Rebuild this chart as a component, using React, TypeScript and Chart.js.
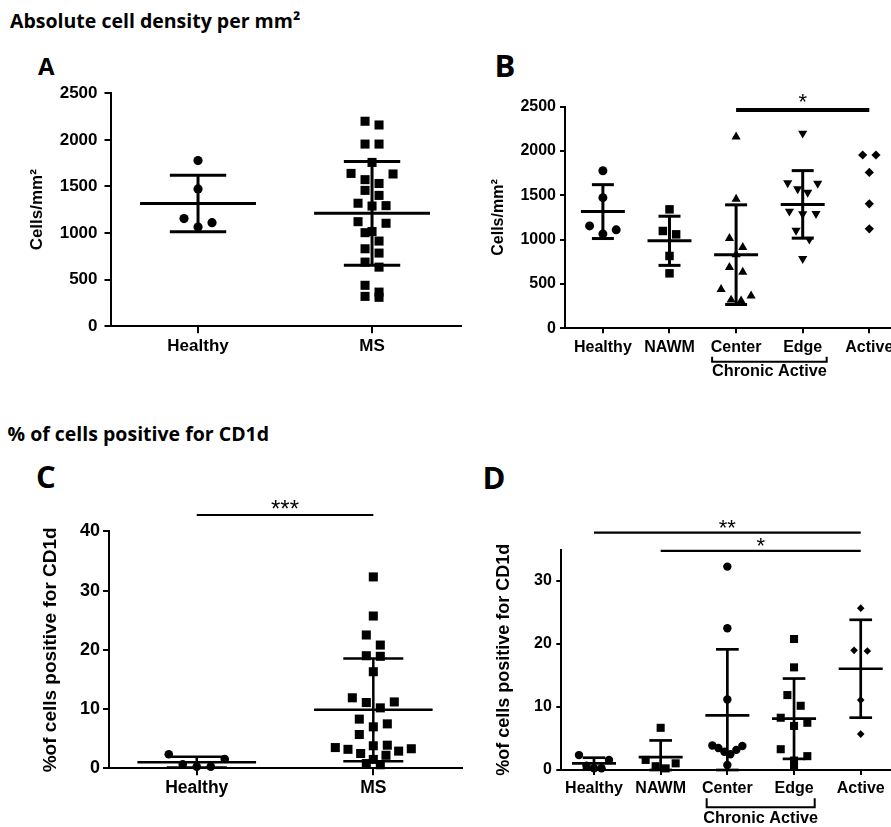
import React, { useEffect, useRef } from 'react';
import { Chart, registerables } from 'chart.js';

Chart.register(...registerables);

const AXIS_FONT = "'Liberation Sans', Arial, Helvetica, sans-serif";
const HEAD_FONT = "'Open Sans', 'Noto Sans', sans-serif";

// ---------- categories & tick labels ----------
const categoriesAC = ['Healthy', 'MS'];
const categoriesBD = ['Healthy', 'NAWM', 'Center', 'Edge', 'Active'];
const chronicActiveGroups = ['Center', 'Edge'];
const densityTicks = [0, 500, 1000, 1500, 2000, 2500];
const cd1dTicksC = [0, 10, 20, 30, 40];
const cd1dTicksD = [0, 10, 20, 30];

// ---------- absolute cell density per mm² ----------
const healthyDensity = [1778, 1474, 1155, 1111, 1065];
const nawmDensity = [1342, 1060, 1098, 816, 620];
const centerDensity = [2160, 1458, 1016, 914, 831, 688, 634, 439, 366, 320, 310];
const edgeDensity = [2200, 1640, 1634, 1573, 1532, 1320, 1290, 1294, 1105, 1004, 785];
const activeDensity = [1955, 1955, 1758, 1404, 1122];
const msDensity = [...centerDensity, ...edgeDensity, ...activeDensity];

// ---------- % of cells positive for CD1d ----------
const healthyCD1d = [2.37, 1.58, 0.68, 0.28, 0.28];
const nawmCD1d = [6.7, 1.06, 1.6, 0.26, 0.6];
const centerCD1d = [32.3, 22.5, 11.2, 3.9, 3.8, 3.5, 3.2, 2.9, 2.5, 0.8];
const edgeCD1d = [20.8, 16.3, 11.9, 10.2, 8.3, 7.5, 7.0, 3.3, 2.2, 1.5, 0.6];
const activeCD1d = [25.7, 19.0, 18.9, 11.1, 5.7];
const msCD1d = [...centerCD1d, ...edgeCD1d, ...activeCD1d];

// ---------- significance comparisons ----------
const sigDensityGroups = [{ from: 'Center', to: 'Active', label: '*' }];
const sigCD1dMS = [{ from: 'Healthy', to: 'MS', label: '***' }];
const sigCD1dGroups = [
  { from: 'Healthy', to: 'Active', label: '**' },
  { from: 'NAWM', to: 'Active', label: '*' },
];

type Group = { values: number[]; style: string; radius: number; rotation?: number; stats: boolean };
type Sig = { from: string; to: string; label: string };

interface PanelCfg {
  id: string;
  box: { left: number; top: number; width: number; height: number };
  area: { yAxisWidth: number; padTop: number; xAxisHeight: number };
  xRange: [number, number];
  yRange: [number, number];
  yTicks: number[];
  categories: string[];
  groups: Group[];
  yTitle: string;
  yTitleSize: number;
  yTitlePad: number;
  yTickSize: number;
  yTickLen: number;
  yTickPad: number;
  xTickSize: number;
  xTickLen: number;
  xTickPad: number;
  statLine: number;
  meanHalf: number;
  capHalf: number;
  sigs: Sig[];
  sigY: number[];
  sigLine: number;
  sigGap: number;
  sigFont: number;
  bracket?: { groups: string[]; label: string; ext: number; lineOffset: number; tick: number; textOffset: number; size: number };
  swarm: { rowH: number; step: number; maxSpread: number };
}

const panelA: PanelCfg = {
  id: 'A',
  box: { left: 0, top: 80, width: 462, height: 300 },
  area: { yAxisWidth: 110.5, padTop: 13.3, xAxisHeight: 53.8 },
  xRange: [-0.503, 1.517],
  yRange: [0, 2500],
  yTicks: densityTicks,
  categories: categoriesAC,
  groups: [
    { values: healthyDensity, style: 'circle', radius: 4.6, stats: true },
    { values: msDensity, style: 'rect', radius: 6.4, stats: true },
  ],
  yTitle: 'Cells/mm²',
  yTitleSize: 17,
  yTitlePad: 27.5,
  yTickSize: 17,
  yTickLen: 6,
  yTickPad: 7,
  xTickSize: 17,
  xTickLen: 7,
  xTickPad: 3,
  statLine: 3,
  meanHalf: 0.333,
  capHalf: 0.162,
  sigs: [],
  sigY: [],
  sigLine: 2,
  sigGap: 5,
  sigFont: 23,
  swarm: { rowH: 10.8, step: 14, maxSpread: 78 },
};

const panelB: PanelCfg = {
  id: 'B',
  box: { left: 450, top: 40, width: 460, height: 350 },
  area: { yAxisWidth: 115, padTop: 66.7, xAxisHeight: 61.7 },
  xRange: [-0.569, 4.611],
  yRange: [0, 2500],
  yTicks: densityTicks,
  categories: categoriesBD,
  groups: [
    { values: healthyDensity, style: 'circle', radius: 4.5, stats: true },
    { values: nawmDensity, style: 'rect', radius: 6, stats: true },
    { values: centerDensity, style: 'triangle', radius: 5.3, stats: true },
    { values: edgeDensity, style: 'triangle', radius: 5.3, rotation: 180, stats: true },
    { values: activeDensity, style: 'rectRot', radius: 4.6, stats: false },
  ],
  yTitle: 'Cells/mm²',
  yTitleSize: 16,
  yTitlePad: 38.9,
  yTickSize: 16,
  yTickLen: 5,
  yTickPad: 4,
  xTickSize: 16,
  xTickLen: 5,
  xTickPad: 5,
  statLine: 3,
  meanHalf: 0.33,
  capHalf: 0.165,
  sigs: sigDensityGroups,
  sigY: [2463],
  sigLine: 4,
  sigGap: 6,
  sigFont: 22,
  bracket: { groups: chronicActiveGroups, label: 'Chronic Active', ext: 0.36, lineOffset: 33.4, tick: 5, textOffset: 43.7, size: 16.3 },
  swarm: { rowH: 12, step: 13.3, maxSpread: 30 },
};

const panelC: PanelCfg = {
  id: 'C',
  box: { left: 0, top: 490, width: 463, height: 337 },
  area: { yAxisWidth: 109, padTop: 41.3, xAxisHeight: 58.7 },
  xRange: [-0.497, 1.508],
  yRange: [0, 40],
  yTicks: cd1dTicksC,
  categories: categoriesAC,
  groups: [
    { values: healthyCD1d, style: 'circle', radius: 4.3, stats: true },
    { values: msCD1d, style: 'rect', radius: 6.4, stats: true },
  ],
  yTitle: '%of cells positive for CD1d',
  yTitleSize: 19,
  yTitlePad: 39.2,
  yTickSize: 18,
  yTickLen: 6,
  yTickPad: 3,
  xTickSize: 17.5,
  xTickLen: 7,
  xTickPad: 2,
  statLine: 2.5,
  meanHalf: 0.336,
  capHalf: 0.17,
  sigs: sigCD1dMS,
  sigY: [42.75],
  sigLine: 2,
  sigGap: 5.5,
  sigFont: 24,
  swarm: { rowH: 13, step: 14, maxSpread: 76 },
};

const panelD: PanelCfg = {
  id: 'D',
  box: { left: 450, top: 490, width: 460, height: 337 },
  area: { yAxisWidth: 111.3, padTop: 59.6, xAxisHeight: 57 },
  xRange: [-0.49, 4.739],
  yRange: [0, 35],
  yTicks: cd1dTicksD,
  categories: categoriesBD,
  groups: [
    { values: healthyCD1d, style: 'circle', radius: 4.2, stats: true },
    { values: nawmCD1d, style: 'rect', radius: 5.7, stats: true },
    { values: centerCD1d, style: 'circle', radius: 4.2, stats: true },
    { values: edgeCD1d, style: 'rect', radius: 5.7, stats: true },
    { values: activeCD1d, style: 'rectRot', radius: 3.8, stats: true },
  ],
  yTitle: '%of cells positive for CD1d',
  yTitleSize: 18,
  yTitlePad: 42.8,
  yTickSize: 16,
  yTickLen: 5,
  yTickPad: 4.5,
  xTickSize: 16,
  xTickLen: 5,
  xTickPad: 4,
  statLine: 2.7,
  meanHalf: 0.33,
  capHalf: 0.17,
  sigs: sigCD1dGroups,
  sigY: [37.7, 34.8],
  sigLine: 2.3,
  sigGap: 3.5,
  sigFont: 22,
  bracket: { groups: chronicActiveGroups, label: 'Chronic Active', ext: 0.31, lineOffset: 37.3, tick: 9, textOffset: 48.3, size: 16.3 },
  swarm: { rowH: 14, step: 13.3, maxSpread: 30 },
};

function mean(v: number[]) {
  return v.reduce((a, b) => a + b, 0) / v.length;
}
function sd(v: number[]) {
  const m = mean(v);
  return Math.sqrt(v.reduce((a, b) => a + (b - m) * (b - m), 0) / (v.length - 1));
}

// Prism-style scatter layout: points whose pixel heights fall within one row
// are spread symmetrically around the group centre; returns pixel offsets.
function rowSwarm(ypx: number[], rowH: number, step: number, maxSpread: number): number[] {
  const order = ypx.map((_, i) => i).sort((a, b) => ypx[a] - ypx[b]);
  const out = new Array(ypx.length).fill(0);
  let k = 0;
  while (k < order.length) {
    const start = ypx[order[k]];
    const row = [order[k]];
    k++;
    while (k < order.length && ypx[order[k]] - start < rowH) {
      row.push(order[k]);
      k++;
    }
    const n = row.length;
    const s = n > 1 ? Math.min(step, maxSpread / (n - 1)) : 0;
    const slots: number[] = [];
    let lo = 0;
    let hi = n - 1;
    while (lo <= hi) {
      slots.push(lo);
      if (hi !== lo) slots.push(hi);
      lo++;
      hi--;
    }
    row.forEach((idx, j) => {
      out[idx] = (slots[j] - (n - 1) / 2) * s;
    });
  }
  return out;
}

function line(ctx: CanvasRenderingContext2D, x1: number, y1: number, x2: number, y2: number) {
  ctx.beginPath();
  ctx.moveTo(x1, y1);
  ctx.lineTo(x2, y2);
  ctx.stroke();
}

function buildConfig(cfg: PanelCfg): any {
  const datasets = cfg.groups.map((g, gi) => ({
    label: cfg.categories[gi],
    data: g.values.map((v) => ({ x: gi, y: v })),
    pointStyle: g.style,
    pointRadius: g.radius,
    pointHoverRadius: g.radius,
    pointRotation: g.rotation ?? 0,
    pointBackgroundColor: '#000',
    pointBorderColor: '#000',
    pointBorderWidth: 0,
    backgroundColor: '#000',
    borderColor: '#000',
    showLine: false,
    clip: false,
  }));

  const statsPlugin = {
    id: 'groupStats' + cfg.id,
    afterDatasetsDraw(chart: any) {
      const ctx = chart.ctx as CanvasRenderingContext2D;
      const xs = chart.scales.x;
      const ys = chart.scales.y;
      ctx.save();
      ctx.strokeStyle = '#000';
      ctx.lineWidth = cfg.statLine;
      ctx.lineCap = 'butt';
      cfg.groups.forEach((g, gi) => {
        if (!g.stats) return;
        const m = mean(g.values);
        const s = sd(g.values);
        const lo = Math.max(m - s, cfg.yRange[0]);
        const hi = Math.min(m + s, cfg.yRange[1]);
        const px = (d: number) => xs.getPixelForValue(gi + d);
        const py = (v: number) => ys.getPixelForValue(v);
        line(ctx, px(-cfg.meanHalf), py(m), px(cfg.meanHalf), py(m));
        line(ctx, px(0), py(lo), px(0), py(hi));
        line(ctx, px(-cfg.capHalf), py(hi), px(cfg.capHalf), py(hi));
        line(ctx, px(-cfg.capHalf), py(lo), px(cfg.capHalf), py(lo));
      });
      ctx.restore();
    },
  };

  const annotPlugin = {
    id: 'annot' + cfg.id,
    afterDraw(chart: any) {
      const ctx = chart.ctx as CanvasRenderingContext2D;
      const xs = chart.scales.x;
      const ys = chart.scales.y;
      const area = chart.chartArea;
      ctx.save();
      ctx.strokeStyle = '#000';
      ctx.fillStyle = '#000';
      ctx.lineCap = 'butt';
      cfg.sigs.forEach((s, i) => {
        const x1 = xs.getPixelForValue(cfg.categories.indexOf(s.from));
        const x2 = xs.getPixelForValue(cfg.categories.indexOf(s.to));
        const y = ys.getPixelForValue(cfg.sigY[i]);
        ctx.lineWidth = cfg.sigLine;
        line(ctx, x1, y, x2, y);
        ctx.font = `${cfg.sigFont}px ${AXIS_FONT}`;
        ctx.textAlign = 'center';
        ctx.textBaseline = 'alphabetic';
        const m = ctx.measureText(s.label);
        const base = y - cfg.sigLine / 2 - cfg.sigGap - m.actualBoundingBoxDescent;
        ctx.fillText(s.label, (x1 + x2) / 2, base);
      });
      if (cfg.bracket) {
        const b = cfg.bracket;
        const i1 = cfg.categories.indexOf(b.groups[0]);
        const i2 = cfg.categories.indexOf(b.groups[1]);
        const x1 = xs.getPixelForValue(i1 - b.ext);
        const x2 = xs.getPixelForValue(i2 + b.ext);
        const yl = area.bottom + b.lineOffset;
        ctx.lineWidth = 2;
        ctx.beginPath();
        ctx.moveTo(x1, yl - b.tick);
        ctx.lineTo(x1, yl);
        ctx.lineTo(x2, yl);
        ctx.lineTo(x2, yl - b.tick);
        ctx.stroke();
        ctx.font = `bold ${b.size}px ${AXIS_FONT}`;
        ctx.textAlign = 'center';
        ctx.textBaseline = 'middle';
        const xm = (xs.getPixelForValue(i1) + xs.getPixelForValue(i2)) / 2;
        ctx.fillText(b.label, xm, area.bottom + b.textOffset);
      }
      ctx.restore();
    },
  };

  return {
    type: 'scatter',
    data: { datasets },
    plugins: [statsPlugin, annotPlugin],
    options: {
      responsive: false,
      maintainAspectRatio: false,
      animation: false,
      devicePixelRatio: 1,
      events: [],
      layout: { autoPadding: false, padding: { top: cfg.area.padTop, left: 0, right: 0, bottom: 0 } },
      plugins: { legend: { display: false }, tooltip: { enabled: false }, title: { display: false } },
      scales: {
        x: {
          type: 'linear',
          min: cfg.xRange[0],
          max: cfg.xRange[1],
          afterBuildTicks: (s: any) => {
            s.ticks = cfg.categories.map((_, i) => ({ value: i }));
          },
          afterFit: (s: any) => {
            s.height = cfg.area.xAxisHeight;
            s.paddingLeft = 0;
            s.paddingRight = 0;
          },
          grid: { drawOnChartArea: false, drawTicks: true, tickLength: cfg.xTickLen, color: '#000', lineWidth: 2 },
          border: { display: true, color: '#000', width: 2 },
          ticks: {
            autoSkip: false,
            maxRotation: 0,
            minRotation: 0,
            padding: cfg.xTickPad,
            color: '#000',
            font: { family: AXIS_FONT, size: cfg.xTickSize, weight: 'bold' },
            callback: (v: number) => cfg.categories[Math.round(v)] ?? '',
          },
        },
        y: {
          type: 'linear',
          min: cfg.yRange[0],
          max: cfg.yRange[1],
          afterBuildTicks: (s: any) => {
            s.ticks = cfg.yTicks.map((v) => ({ value: v }));
          },
          afterFit: (s: any) => {
            s.width = cfg.area.yAxisWidth;
            s.paddingTop = 0;
            s.paddingBottom = 0;
          },
          grid: { drawOnChartArea: false, drawTicks: true, tickLength: cfg.yTickLen, color: '#000', lineWidth: 2 },
          border: { display: true, color: '#000', width: 2 },
          ticks: {
            padding: cfg.yTickPad,
            color: '#000',
            font: { family: AXIS_FONT, size: cfg.yTickSize, weight: 'bold' },
            callback: (v: number) => String(v),
          },
          title: {
            display: true,
            text: cfg.yTitle,
            color: '#000',
            padding: { top: cfg.yTitlePad, bottom: 0 },
            font: { family: AXIS_FONT, size: cfg.yTitleSize, weight: 'bold' },
          },
        },
      },
    },
  };
}

function applySwarm(chart: any, cfg: PanelCfg) {
  const xs = chart.scales.x;
  const ys = chart.scales.y;
  const unit = xs.getPixelForValue(1) - xs.getPixelForValue(0);
  chart.data.datasets.forEach((ds: any, gi: number) => {
    const ypx = ds.data.map((p: any) => ys.getPixelForValue(p.y));
    const off = rowSwarm(ypx, cfg.swarm.rowH, cfg.swarm.step, cfg.swarm.maxSpread);
    ds.data = ds.data.map((p: any, i: number) => ({ x: gi + off[i] / unit, y: p.y }));
  });
  chart.update('none');
}

function Panel({ cfg }: { cfg: PanelCfg }) {
  const ref = useRef<HTMLCanvasElement>(null);
  useEffect(() => {
    const canvas = ref.current;
    if (!canvas) return;
    const chart = new Chart(canvas, buildConfig(cfg));
    applySwarm(chart, cfg);
    return () => chart.destroy();
  }, [cfg]);
  return (
    <canvas
      ref={ref}
      width={cfg.box.width}
      height={cfg.box.height}
      style={{ position: 'absolute', left: cfg.box.left, top: cfg.box.top, width: cfg.box.width, height: cfg.box.height }}
    />
  );
}

const headStyle: React.CSSProperties = {
  position: 'absolute',
  fontFamily: HEAD_FONT,
  fontWeight: 700,
  lineHeight: 1,
  color: '#000',
  whiteSpace: 'nowrap',
};

export default function App() {
  return (
    <div style={{ position: 'absolute', left: 0, top: 0, width: 891, height: 827, overflow: 'hidden', background: '#fff' }}>
      <div style={{ ...headStyle, left: 10, top: 11, fontSize: 19.5 }}>Absolute cell density per mm²</div>
      <div style={{ ...headStyle, left: 7.5, top: 424, fontSize: 19.5 }}>% of cells positive for CD1d</div>
      <div style={{ ...headStyle, left: 38, top: 54, fontSize: 24 }}>A</div>
      <div style={{ ...headStyle, left: 494.5, top: 49.5, fontSize: 31 }}>B</div>
      <div style={{ ...headStyle, left: 36, top: 460.5, fontSize: 31 }}>C</div>
      <div style={{ ...headStyle, left: 482.5, top: 461.5, fontSize: 31 }}>D</div>
      <Panel cfg={panelA} />
      <Panel cfg={panelB} />
      <Panel cfg={panelC} />
      <Panel cfg={panelD} />
    </div>
  );
}
